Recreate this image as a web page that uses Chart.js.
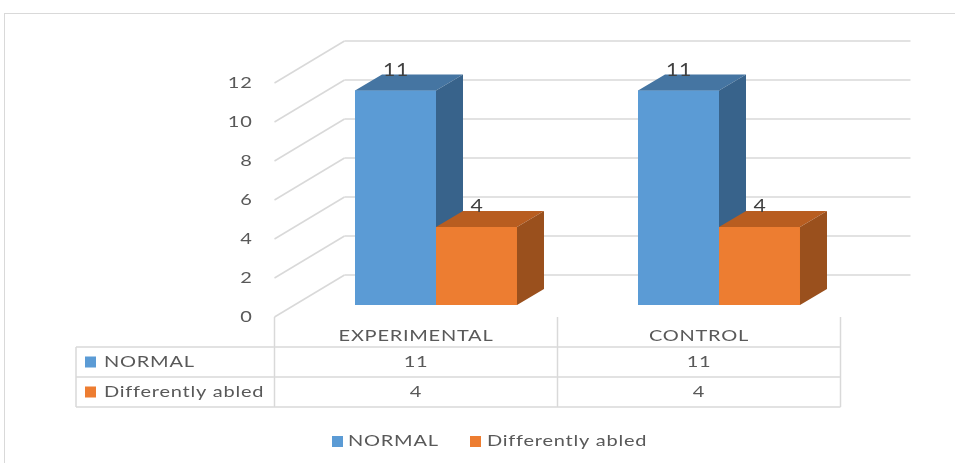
<!DOCTYPE html>
<html>
<head>
<meta charset="utf-8">
<script src="https://cdn.jsdelivr.net/npm/chart.js@4.4.1/dist/chart.umd.min.js"></script>
<style>
  html, body { margin: 0; padding: 0; background: #ffffff; }
  #wrap { width: 955px; height: 463px; position: relative; }
</style>
</head>
<body>
<div id="wrap"><canvas id="chart" width="955" height="463"></canvas></div>
<script>
// Group labels, series names and values
const categories = ['EXPERIMENTAL', 'CONTROL'];
const seriesNames = ['NORMAL', 'Differently abled'];
const normalValues = [11, 11];
const differentlyAbledValues = [4, 4];
const yTickStep = 2;
const yMax = 12;

// Face colours for the 3D columns: front, top, side
const faceColors = [
  { front: '#5B9BD5', top: '#4575A2', side: '#38638B' },
  { front: '#ED7D31', top: '#B85D20', side: '#9A501D' }
];

// Depth offsets (px) relative to the plane the bar fronts are drawn in
const FRONT = { dx: -20, dy: 12 };   // front edge of floor / axis labels
const BACK = { dx: 50, dy: -30 };    // back wall
const BAR_DEPTH = { dx: 27, dy: -16 };

const TEXT_FONT = '16px Lato, "Liberation Sans", sans-serif';
const TEXT_SX = 1.25;
const TEXT_SPACING = '0.6px';
const TEXT_COLOR = '#595959';
const GRID_COLOR = '#d9d9d9';

function wideText(ctx, text, x, y, align, font, color) {
  ctx.save();
  ctx.font = font || TEXT_FONT;
  ctx.fillStyle = color || TEXT_COLOR;
  ctx.textBaseline = 'middle';
  ctx.textAlign = align;
  if ('letterSpacing' in ctx) ctx.letterSpacing = TEXT_SPACING;
  ctx.translate(x, y);
  ctx.scale(TEXT_SX, 1);
  ctx.fillText(text, 0, 0);
  ctx.restore();
}

function line(ctx, x1, y1, x2, y2) {
  ctx.beginPath();
  ctx.moveTo(x1, y1);
  ctx.lineTo(x2, y2);
  ctx.stroke();
}

const depthPlugin = {
  id: 'depth3d',
  beforeDatasetsDraw(chart) {
    const { ctx, chartArea, scales } = chart;
    const y = scales.y;
    const left = chartArea.left, right = chartArea.right;

    // outer frame
    ctx.save();
    ctx.strokeStyle = GRID_COLOR;
    ctx.lineWidth = 1;
    ctx.strokeRect(4.5, 13.5, 1000, 500);

    // back wall and side wall gridlines
    ctx.lineWidth = 1.5;
    y.ticks.forEach(t => {
      const py = y.getPixelForValue(t.value);
      line(ctx, left + FRONT.dx, py + FRONT.dy, left + BACK.dx, py + BACK.dy);
      line(ctx, left + BACK.dx, py + BACK.dy, right + BACK.dx, py + BACK.dy);
    });
    ctx.restore();

    // value axis labels on the front edge
    y.ticks.forEach(t => {
      const py = y.getPixelForValue(t.value) + FRONT.dy;
      wideText(ctx, String(t.value), left + FRONT.dx - 22, py, 'right');
    });
  },
  afterDatasetsDraw(chart) {
    const { ctx, chartArea, scales } = chart;
    const y = scales.y;

    // columns, left series first so each right-hand column sits in front
    chart.data.datasets.forEach((ds, i) => {
      const c = faceColors[i];
      chart.getDatasetMeta(i).data.forEach(bar => {
        bar.draw(ctx);
        const x0 = bar.x - bar.width / 2, x1 = bar.x + bar.width / 2;
        const top = bar.y, base = bar.base;
        const dx = BAR_DEPTH.dx, dy = BAR_DEPTH.dy;
        ctx.save();
        ctx.fillStyle = c.top;
        ctx.beginPath();
        ctx.moveTo(x0, top); ctx.lineTo(x1, top);
        ctx.lineTo(x1 + dx, top + dy); ctx.lineTo(x0 + dx, top + dy);
        ctx.closePath(); ctx.fill();
        ctx.fillStyle = c.side;
        ctx.beginPath();
        ctx.moveTo(x1, top); ctx.lineTo(x1 + dx, top + dy);
        ctx.lineTo(x1 + dx, base + dy); ctx.lineTo(x1, base);
        ctx.closePath(); ctx.fill();
        ctx.restore();
      });
    });

    // value labels on the column tops
    chart.data.datasets.forEach((ds, i) => {
      chart.getDatasetMeta(i).data.forEach((bar, j) => {
        const x0 = bar.x - bar.width / 2;
        wideText(ctx, String(ds.data[j]), x0 + BAR_DEPTH.dx + 14, bar.y + BAR_DEPTH.dy - 4,
          'center', '17px Lato, "Liberation Sans", sans-serif', '#404040');
      });
    });

    // data table under the plot
    const floorY = y.getPixelForValue(0) + FRONT.dy;
    const colL = chartArea.left + FRONT.dx;
    const colR = chartArea.right + FRONT.dx;
    const nCat = categories.length;
    const colW = (colR - colL) / nCat;
    const tableLeft = 76;
    const rowTop = floorY + 30, rowH = 30;
    const rows = [normalValues, differentlyAbledValues];

    ctx.save();
    ctx.strokeStyle = GRID_COLOR;
    ctx.lineWidth = 1.5;
    for (let r = 0; r <= rows.length; r++) {
      line(ctx, tableLeft, rowTop + r * rowH, colR, rowTop + r * rowH);
    }
    line(ctx, tableLeft, rowTop, tableLeft, rowTop + rows.length * rowH);
    for (let k = 0; k <= nCat; k++) {
      line(ctx, colL + k * colW, floorY, colL + k * colW, rowTop + rows.length * rowH);
    }
    ctx.restore();

    categories.forEach((cat, k) => {
      wideText(ctx, cat, colL + (k + 0.5) * colW, floorY + 19, 'center');
    });
    rows.forEach((vals, r) => {
      const cy = rowTop + (r + 0.5) * rowH;
      ctx.fillStyle = faceColors[r].front;
      ctx.fillRect(85, cy - 5.5, 11, 11);
      wideText(ctx, seriesNames[r], 104, cy, 'left');
      vals.forEach((v, k) => {
        wideText(ctx, String(v), colL + (k + 0.5) * colW, cy, 'center');
      });
    });

    // legend
    const legY = 441;
    ctx.fillStyle = faceColors[0].front;
    ctx.fillRect(332, legY - 5, 11, 11);
    wideText(ctx, seriesNames[0], 348, legY, 'left');
    ctx.fillStyle = faceColors[1].front;
    ctx.fillRect(470, legY - 5, 11, 11);
    wideText(ctx, seriesNames[1], 487, legY, 'left');
  }
};

new Chart(document.getElementById('chart'), {
  type: 'bar',
  data: {
    labels: categories,
    datasets: [
      { label: seriesNames[0], data: normalValues, backgroundColor: faceColors[0].front },
      { label: seriesNames[1], data: differentlyAbledValues, backgroundColor: faceColors[1].front }
    ]
  },
  options: {
    responsive: false,
    animation: false,
    devicePixelRatio: 1,
    layout: { padding: { left: 294.5, right: 94.5, top: 71, bottom: 158 } },
    datasets: { bar: { barPercentage: 1, categoryPercentage: 0.5724, borderWidth: 0 } },
    scales: {
      x: { display: false },
      y: { display: false, min: 0, max: yMax, ticks: { stepSize: yTickStep } }
    },
    plugins: { legend: { display: false }, tooltip: { enabled: false } }
  },
  plugins: [depthPlugin]
});
</script>
</body>
</html>
